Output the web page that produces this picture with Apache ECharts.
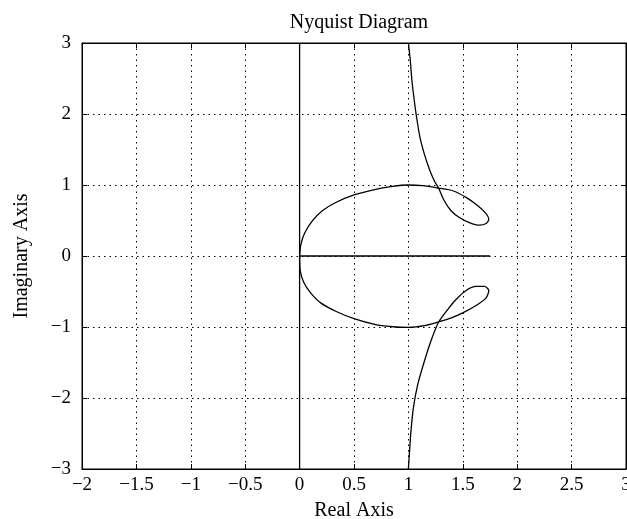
<!DOCTYPE html>
<html>
<head>
<meta charset="utf-8">
<title>Nyquist Diagram</title>
<script src="https://cdn.jsdelivr.net/npm/echarts@6/dist/echarts.min.js"></script>
<style>
html, body { margin: 0; padding: 0; background: #fff; }
#main { width: 627px; height: 519px; }
</style>
</head>
<body>
<div id="main"></div>
<script type="text/javascript">
// axis ranges and ticks
var xTicks = [-2, -1.5, -1, -0.5, 0, 0.5, 1, 1.5, 2, 2.5, 3];
var yTicks = [-3, -2, -1, 0, 1, 2, 3];

// upper branch: from the top down, round the loop, back along the arc to the origin
var upperX = [1.0, 1.017, 1.032, 1.054, 1.075, 1.106, 1.146, 1.192, 1.238, 1.278, 1.33, 1.392, 1.468, 1.56, 1.653, 1.714, 1.739, 1.714, 1.638, 1.53, 1.407, 1.278, 1.131, 1.0, 0.854, 0.67, 0.507, 0.332, 0.209, 0.117, 0.049, 0.012, 0];
var upperY = [3.0, 2.76, 2.475, 2.19, 1.956, 1.673, 1.438, 1.226, 1.06, 0.955, 0.778, 0.637, 0.542, 0.471, 0.434, 0.457, 0.519, 0.598, 0.707, 0.825, 0.919, 0.955, 0.99, 1.0, 0.98, 0.929, 0.863, 0.754, 0.637, 0.495, 0.33, 0.165, 0];

// lower branch: from the origin along the arc, round the loop, down to the bottom
var lowerX = [0, 0.006, 0.04, 0.101, 0.194, 0.332, 0.507, 0.70, 0.885, 1.0, 1.161, 1.278, 1.407, 1.5, 1.622, 1.714, 1.739, 1.699, 1.622, 1.53, 1.438, 1.361, 1.278, 1.217, 1.146, 1.085, 1.045, 1.023, 1.01, 1.0];
var lowerY = [0, -0.212, -0.377, -0.519, -0.66, -0.778, -0.887, -0.966, -1.0, -1.004, -0.976, -0.929, -0.863, -0.802, -0.698, -0.59, -0.486, -0.429, -0.429, -0.486, -0.613, -0.754, -0.929, -1.155, -1.485, -1.815, -2.145, -2.475, -2.76, -3.0];

// real-axis segment and the line along the imaginary axis
var segX = [0, 1.75];
var segY = [0, 0];
var vertX = [0, 0];
var vertY = [-3, 3];

function pairs(xs, ys) {
	var out = [];
	for (var i = 0; i < xs.length; i++) out.push([xs[i], ys[i]]);
	return out;
}

// tick labels use a real minus sign, as in the original
function minus(v) {
	return String(v).replace('-', '\u2212');
}

var serif = "'Liberation Serif', 'Times New Roman', serif";
var gridLine = { show: true, lineStyle: { color: '#000', width: 1, type: [1.5, 4] } };
var tickIn = { show: true, inside: true, length: 5, lineStyle: { color: '#000' } };
var blackLine = { show: true, onZero: false, lineStyle: { color: '#000', width: 1 } };

function lineSeries(data, smooth) {
	return {
		type: 'line',
		data: data,
		showSymbol: false,
		symbol: 'none',
		smooth: smooth,
		lineStyle: { color: '#000', width: 1.3 },
		animation: false
	};
}

var myChart = echarts.init(document.getElementById('main'));

var option = {
	backgroundColor: '#fff',
	animation: false,
	title: {
		text: 'Nyquist Diagram',
		left: 354,
		textAlign: 'center',
		top: 8,
		textStyle: { fontFamily: serif, fontSize: 20, fontWeight: 'normal', color: '#000' }
	},
	grid: {
		left: 82, right: 1, top: 43, bottom: 50,
		outerBoundsMode: 'none',
		containLabel: false,
		show: true, borderColor: '#000', borderWidth: 1
	},
	xAxis: [{
		type: 'value',
		min: xTicks[0], max: xTicks[xTicks.length - 1], interval: 0.5,
		name: 'Real Axis',
		nameLocation: 'middle',
		nameGap: 32,
		nameTextStyle: { fontFamily: serif, fontSize: 20, color: '#000' },
		axisLine: blackLine,
		axisTick: tickIn,
		axisLabel: { fontFamily: serif, fontSize: 19, color: '#000', margin: 7, formatter: minus },
		splitLine: gridLine
	}, {
		type: 'value', position: 'top',
		min: xTicks[0], max: xTicks[xTicks.length - 1], interval: 0.5,
		axisLine: blackLine,
		axisTick: tickIn,
		axisLabel: { show: false },
		splitLine: { show: false }
	}],
	yAxis: [{
		type: 'value',
		min: yTicks[0], max: yTicks[yTicks.length - 1], interval: 1,
		name: 'Imaginary Axis',
		nameLocation: 'middle',
		nameGap: 50,
		nameTextStyle: { fontFamily: serif, fontSize: 20, color: '#000' },
		axisLine: blackLine,
		axisTick: tickIn,
		axisLabel: { fontFamily: serif, fontSize: 19, color: '#000', margin: 11, formatter: minus },
		splitLine: gridLine
	}, {
		type: 'value', position: 'right',
		min: yTicks[0], max: yTicks[yTicks.length - 1], interval: 1,
		axisLine: blackLine,
		axisTick: tickIn,
		axisLabel: { show: false },
		splitLine: { show: false }
	}],
	series: [
		lineSeries(pairs(upperX, upperY), 0.25),
		lineSeries(pairs(lowerX, lowerY), 0.25),
		lineSeries(pairs(segX, segY), false),
		lineSeries(pairs(vertX, vertY), false)
	]
};

myChart.setOption(option);
</script>
</body>
</html>
